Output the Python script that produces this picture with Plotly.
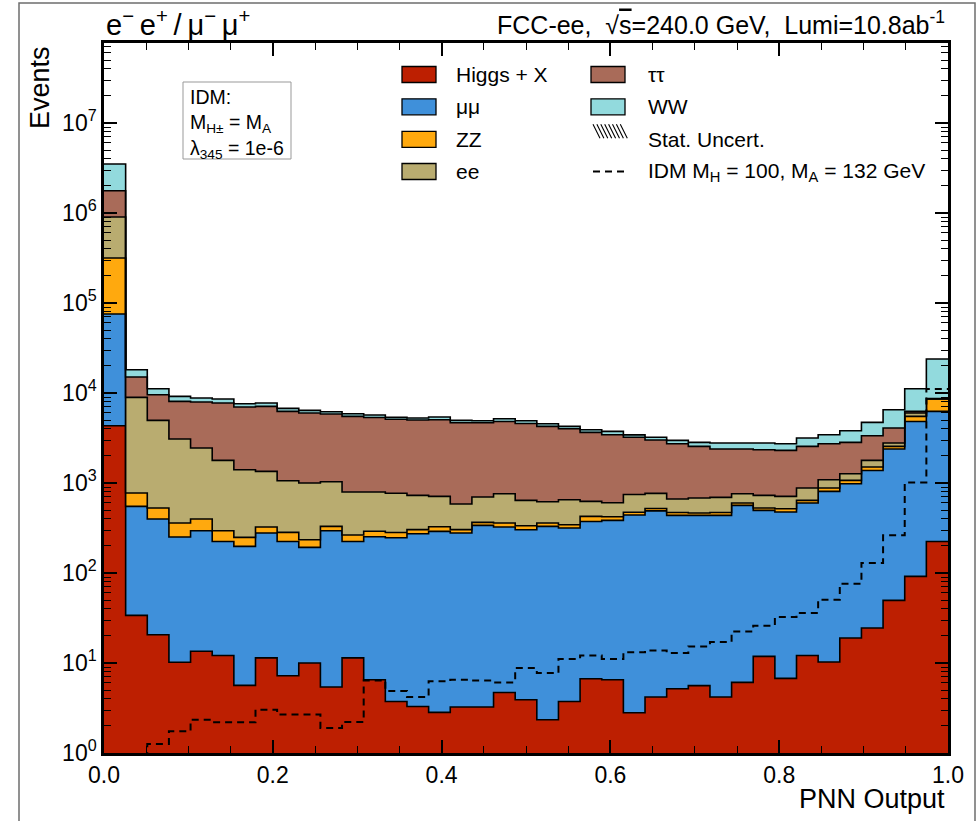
import numpy as np
import plotly.graph_objects as go

# ---------------- data ----------------
edges = np.linspace(0.0, 1.0, 40)  # 39 bins

higgs = [4335, 33.8, 20.6, 10.2, 13.5, 12.1, 5.64, 11.4, 7.23, 10.0, 5.41, 11.4, 6.52, 3.74, 3.29,
         2.83, 3.24, 3.24, 4.71, 3.91, 2.34, 3.74, 6.69, 6.52, 2.8, 4.19, 5.18, 5.6, 4.19, 6.09,
         11.84, 6.74, 12.1, 10.26, 18.96, 24.5, 49.6, 91.7, 224]
mumu = [71200, 516, 377, 241, 281.5, 212, 192, 266.6, 216.8, 182.4, 289.6, 212.6, 246.5, 243, 270,
        287, 274.8, 334.8, 319.3, 299, 327.3, 312.3, 367.3, 377.5, 438, 486, 431.3, 431, 432.3, 558,
        484, 469, 587, 797, 963, 1355, 2338, 4741, 6026]
zz = [240700, 224, 129, 108, 103, 71, 51.4, 46, 58.5, 42, 34.6, 40.3, 38, 35, 29.7,
      37, 25, 27, 35, 32.5, 29.4, 28, 51.6, 38.4, 33, 31, 34.5, 27.5, 34.5, 35,
      31, 42, 42, 73, 87, 126, 164, 662, 2327]
ee = [586800, 8160, 4438, 2724, 2050, 1488, 1157, 1022, 778.5, 765.6, 703.4, 529.7, 503, 488, 425,
      383, 281, 334, 401, 305.5, 261, 308, 199.4, 181.6, 271, 245, 193, 217, 221, 161,
      201, 192, 239, 208, 199, 277, 231, 500, 43]
tautau = [867000, 6125, 4610, 4987, 5495, 5960, 5579, 5754, 5189, 4995, 4812, 4701, 4551, 4331, 4284,
          4340, 4093, 3978, 4073, 3951, 3636, 3358, 3025, 2837, 2483, 2239, 2069, 1871, 1696, 1628,
          1616, 1592, 1672, 1645, 1558, 1572, 1301, 255, 45]
ww = [1732000, 3090, 1595, 1100, 852, 834, 620, 643, 495, 415, 355, 395, 355, 284, 263,
      360, 288, 245, 347, 330, 304, 246, 260, 303, 194, 223, 241, 274, 395, 395,
      439, 431, 610, 708, 985, 1358, 2436, 4920, 15205]
idm = [0.3, 0.6, 1.26, 1.74, 2.34, 2.19, 2.19, 3.03, 2.67, 2.67, 1.9, 2.21, 6.4, 4.9, 4.19,
       6.25, 6.52, 6.4, 6.09, 8.8, 7.74, 11.1, 12.1, 11.1, 13.2, 13.8, 12.9, 15.3, 17.1, 22.4,
       26, 32.4, 35.9, 50.5, 76, 129, 262, 1016, 11070]

layers = [
    ("Higgs + X", higgs, "#bd1f01"),
    ("μμ", mumu, "#3f90da"),
    ("ZZ", zz, "#ffa90e"),
    ("ee", ee, "#b9ac70"),
    ("ττ", tautau, "#a96b59"),
    ("WW", ww, "#92dadd"),
]
xticks = [0.0, 0.2, 0.4, 0.6, 0.8, 1.0]
xticklabels = ["0.0", "0.2", "0.4", "0.6", "0.8", "1.0"]
yticks = [10 ** k for k in range(8)]
yticklabels = ["10<sup>%d</sup>" % k for k in range(8)]

# ---------------- geometry helpers ----------------
W, H = 979, 821
L, R, T, B = 104, 31, 43, 68
PW, PH = W - L - R, H - T - B
FONT = "Liberation Sans, Arial, Helvetica, sans-serif"


def px(x):
    return (x - L) / PW


def py(y):
    return (H - B - y) / PH


def step(vals):
    v = list(vals)
    return v + [v[-1]]


fig = go.Figure()

# invisible baseline far below the axis so the first layer can fill down
fig.add_trace(go.Scatter(x=edges, y=step([1e-3] * len(higgs)), mode="lines",
                         line=dict(width=0, color="rgba(0,0,0,0)"), line_shape="hv",
                         showlegend=False, hoverinfo="skip"))

cum = np.zeros(len(higgs))
for name, vals, col in layers:
    cum = cum + np.array(vals, dtype=float)
    fig.add_trace(go.Scatter(x=edges, y=step(cum), mode="lines", name=name,
                             line=dict(color="black", width=1.6), line_shape="hv",
                             fill="tonexty", fillcolor=col, showlegend=False))

fig.add_trace(go.Scatter(x=edges, y=step(idm), mode="lines",
                         name="IDM M_H = 100, M_A = 132 GeV",
                         line=dict(color="black", width=2, dash="7px,5px"), line_shape="hv",
                         showlegend=False))

shapes = []
annotations = []

# outer frame of the canvas
shapes.append(dict(type="rect", xref="paper", yref="paper", x0=px(19), x1=px(975),
                   y0=py(830), y1=py(3), line=dict(color="#6e6e6e", width=1.5)))

# ---------------- manual legend ----------------
rows = [74.5, 106.8, 139.3, 171.5]
col1 = [("Higgs + X", "#bd1f01"), ("μμ", "#3f90da"), ("ZZ", "#ffa90e"), ("ee", "#b9ac70")]
for (lab, col), yc in zip(col1, rows):
    shapes.append(dict(type="rect", xref="paper", yref="paper", x0=px(402), x1=px(436),
                       y0=py(yc + 8), y1=py(yc - 8), fillcolor=col,
                       line=dict(color="black", width=1.3)))
    annotations.append(dict(text=lab, x=px(454), y=py(yc), xref="paper", yref="paper",
                            xanchor="left", yanchor="middle", showarrow=False,
                            font=dict(size=21, color="black", family=FONT)))

col2x0, col2x1 = 591, 625
for (lab, col), yc in zip([("ττ", "#a96b59"), ("WW", "#92dadd")], rows[:2]):
    shapes.append(dict(type="rect", xref="paper", yref="paper", x0=px(col2x0), x1=px(col2x1),
                       y0=py(yc + 8), y1=py(yc - 8), fillcolor=col,
                       line=dict(color="black", width=1.3)))
    annotations.append(dict(text=lab, x=px(646), y=py(yc), xref="paper", yref="paper",
                            xanchor="left", yanchor="middle", showarrow=False,
                            font=dict(size=21, color="black", family=FONT)))

# hatch swatch
hy0, hy1 = rows[2] - 15, rows[2] - 1
path = ""
for i in range(8):
    xa = 593 + i * 3.9
    path += "M%.5f,%.5f L%.5f,%.5f " % (px(xa), py(hy0), px(xa + 7), py(hy1))
shapes.append(dict(type="path", xref="paper", yref="paper", path=path,
                   line=dict(color="black", width=1.1)))
annotations.append(dict(text="Stat. Uncert.", x=px(646), y=py(rows[2]), xref="paper", yref="paper",
                        xanchor="left", yanchor="middle", showarrow=False,
                        font=dict(size=21, color="black", family=FONT)))
# dashed swatch
shapes.append(dict(type="line", xref="paper", yref="paper", x0=px(593), x1=px(628),
                   y0=py(rows[3]), y1=py(rows[3]), line=dict(color="black", width=2.2, dash="7px,5px")))
annotations.append(dict(text="IDM M<sub>H</sub> = 100, M<sub>A</sub> = 132 GeV", x=px(646), y=py(rows[3]),
                        xref="paper", yref="paper", xanchor="left", yanchor="middle", showarrow=False,
                        font=dict(size=21, color="black", family=FONT)))

# ---------------- IDM info box ----------------
shapes.append(dict(type="rect", xref="paper", yref="paper", x0=px(183), x1=px(291),
                   y0=py(159), y1=py(82), line=dict(color="#999999", width=1), fillcolor="white"))
annotations.append(dict(text="IDM:<br>M<sub>H±</sub> = M<sub>A</sub><br>λ<sub>345</sub> = 1e-6",
                        x=px(188), y=py(84), xref="paper", yref="paper", align="left",
                        xanchor="left", yanchor="top", showarrow=False,
                        font=dict(size=19.5, color="black", family=FONT)))

# ---------------- titles ----------------
annotations.append(dict(text="e<sup>−</sup>\u2009e<sup>+</sup>\u2009/\u2009μ<sup>−</sup>\u2009μ<sup>+</sup>",
                        x=px(104), y=py(23),
                        xref="paper", yref="paper", xanchor="left", yanchor="middle", showarrow=False,
                        font=dict(size=29, color="black", family=FONT)))
annotations.append(dict(text="FCC-ee,\u00a0\u00a0√<span style='text-decoration:overline'>s</span>=240.0 GeV,"
                             "\u00a0\u00a0Lumi=10.8ab<sup>-1</sup>",
                        x=px(947), y=py(23), xref="paper", yref="paper", xanchor="right", yanchor="middle",
                        showarrow=False, font=dict(size=25, color="black", family=FONT)))
annotations.append(dict(text="Events", x=px(40), y=py(88), xref="paper", yref="paper", textangle=-90,
                        xanchor="center", yanchor="middle", showarrow=False,
                        font=dict(size=27, color="black", family=FONT)))
annotations.append(dict(text="PNN Output", x=px(947), y=py(799), xref="paper", yref="paper",
                        xanchor="right", yanchor="middle", showarrow=False,
                        font=dict(size=27, color="black", family=FONT)))

minor_y = [k * 10 ** d for d in range(8) for k in range(2, 10)]

fig.update_layout(
    width=W, height=H,
    margin=dict(l=L, r=R, t=T, b=B, pad=0),
    paper_bgcolor="white", plot_bgcolor="white",
    font=dict(family=FONT, color="black"),
    showlegend=False,
    shapes=shapes, annotations=annotations,
    xaxis=dict(range=[0, 1], tickvals=xticks, ticktext=xticklabels, ticks="inside", ticklen=13,
               tickwidth=1.5, tickcolor="black", showline=True, linewidth=2.5, linecolor="black",
               mirror="allticks", showgrid=False, zeroline=False, tickfont=dict(size=23),
               minor=dict(dtick=0.05, tick0=0, ticks="inside", ticklen=7, tickwidth=1.2,
                          tickcolor="black", showgrid=False)),
    yaxis=dict(type="log", range=[0, 7.889], tickvals=yticks, ticktext=yticklabels, ticks="inside",
               ticklen=13, tickwidth=1.5, tickcolor="black", showline=True, linewidth=2.5,
               linecolor="black", mirror="allticks", showgrid=False, zeroline=False,
               tickfont=dict(size=23),
               minor=dict(tickvals=minor_y, ticks="inside", ticklen=7, tickwidth=1.2,
                          tickcolor="black", showgrid=False)),
)

fig.write_html("out.html")
